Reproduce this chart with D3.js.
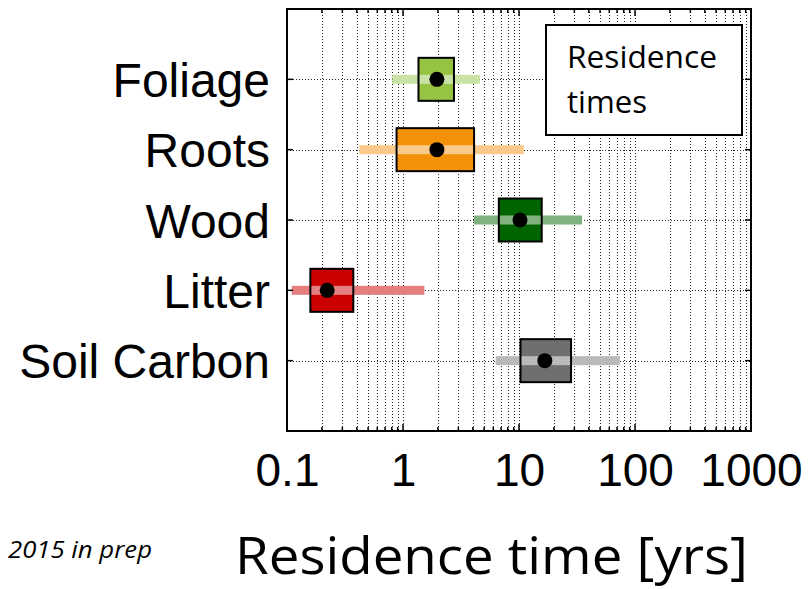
<!DOCTYPE html>
<html>
<head>
<meta charset="utf-8">
<script src="https://cdn.jsdelivr.net/npm/d3@7"></script>
<style>
  html, body { margin: 0; padding: 0; background: #fff; }
  svg { display: block; }
</style>
</head>
<body>
<svg id="chart" width="812" height="589"></svg>
<script>
// Carbon pool residence times (years), log scale
const categories = ["Foliage", "Roots", "Wood", "Litter", "Soil Carbon"];
const medians    = [1.96, 1.96, 10.2, 0.222, 16.7];
const boxLow     = [1.36, 0.88, 6.7, 0.159, 10.3];
const boxHigh    = [2.75, 4.1, 15.7, 0.373, 28.1];
const rangeLow   = [0.81, 0.42, 4.1, 0.11, 6.3];
const rangeHigh  = [4.6, 11.0, 35, 1.53, 74];
const boxColors  = ["#96c341", "#f39208", "#006400", "#cc0000", "#6f6f6f"];
const bandColors = ["#c9e2a6", "#fbc98b", "#7fb27f", "#e57f7f", "#bababa"];
const xTickValues = [0.1, 1, 10, 100, 1000];
const xTickLabels = ["0.1", "1", "10", "100", "1000"];

const svg = d3.select("#chart");
const L = 287, R = 751, T = 9, B = 431;

const x = d3.scaleLog().domain([0.1, 1000]).range([L, R]);
const y = d3.scaleLinear().domain([0, 6]).range([T, B]);
const rows = categories.map((c, i) => ({
  name: c, pos: i + 1,
  med: medians[i], bLo: boxLow[i], bHi: boxHigh[i],
  rLo: rangeLow[i], rHi: rangeHigh[i],
  fill: boxColors[i], band: bandColors[i]
}));

const logTicks = x.ticks(); // 0.1..0.9, 1..9, 10..90, ...
const isMajor = v => Math.abs(Math.log10(v) - Math.round(Math.log10(v))) < 1e-9;

// dotted grid
const grid = svg.append("g").attr("stroke", "#222").attr("stroke-width", 1)
  .attr("stroke-dasharray", "1,2");
grid.selectAll("line.v").data(logTicks.filter(v => v > 0.1 && v < 1000))
  .join("line").attr("class", "v")
  .attr("x1", d => Math.round(x(d)) + 0.5).attr("x2", d => Math.round(x(d)) + 0.5)
  .attr("y1", T).attr("y2", B);
grid.selectAll("line.h").data(rows).join("line").attr("class", "h")
  .attr("x1", L).attr("x2", R)
  .attr("y1", d => Math.round(y(d.pos)) + 0.5).attr("y2", d => Math.round(y(d.pos)) + 0.5);

// boxes with range bands
const boxH = 43, bandH = 9, dotR = 7.5;
const g = svg.append("g");
g.selectAll("rect.box").data(rows).join("rect").attr("class", "box")
  .attr("x", d => x(d.bLo)).attr("width", d => x(d.bHi) - x(d.bLo))
  .attr("y", d => y(d.pos) - boxH / 2).attr("height", boxH)
  .attr("fill", d => d.fill);
g.selectAll("rect.band").data(rows).join("rect").attr("class", "band")
  .attr("x", d => x(d.rLo)).attr("width", d => x(d.rHi) - x(d.rLo))
  .attr("y", d => y(d.pos) - bandH / 2).attr("height", bandH)
  .attr("fill", d => d.band);
g.selectAll("rect.outline").data(rows).join("rect").attr("class", "outline")
  .attr("x", d => x(d.bLo)).attr("width", d => x(d.bHi) - x(d.bLo))
  .attr("y", d => y(d.pos) - boxH / 2).attr("height", boxH)
  .attr("fill", "none").attr("stroke", "#000").attr("stroke-width", 2);
g.selectAll("circle").data(rows).join("circle")
  .attr("cx", d => x(d.med)).attr("cy", d => y(d.pos)).attr("r", dotR)
  .attr("fill", "#000");

// inward ticks on all four sides
const ticks = svg.append("g").attr("stroke", "#000").attr("stroke-width", 1.5);
const tl = d => isMajor(d) ? 7 : 4;
ticks.selectAll("line.t").data(logTicks).join("line").attr("class", "t")
  .attr("x1", d => x(d)).attr("x2", d => x(d)).attr("y1", T).attr("y2", d => T + tl(d));
ticks.selectAll("line.b").data(logTicks).join("line").attr("class", "b")
  .attr("x1", d => x(d)).attr("x2", d => x(d)).attr("y1", B).attr("y2", d => B - tl(d));
ticks.selectAll("line.l").data(rows).join("line").attr("class", "l")
  .attr("x1", L).attr("x2", L + 6).attr("y1", d => y(d.pos)).attr("y2", d => y(d.pos));
ticks.selectAll("line.r").data(rows).join("line").attr("class", "r")
  .attr("x1", R).attr("x2", R - 6).attr("y1", d => y(d.pos)).attr("y2", d => y(d.pos));

// frame
svg.append("rect").attr("x", L).attr("y", T).attr("width", R - L).attr("height", B - T)
  .attr("fill", "none").attr("stroke", "#000").attr("stroke-width", 2);

// category labels
svg.append("g").selectAll("text").data(rows).join("text")
  .attr("x", 270).attr("y", d => y(d.pos) + 17.5)
  .attr("text-anchor", "end")
  .attr("font-family", "'Liberation Sans', Arial, sans-serif")
  .attr("font-size", 48).attr("fill", "#000")
  .text(d => d.name);

// x tick labels
const xAxis = d3.axisBottom(x).tickValues(xTickValues)
  .tickFormat((d, i) => xTickLabels[i]).tickSize(0).tickPadding(0);
const ax = svg.append("g").attr("transform", `translate(0,${B})`).call(xAxis);
ax.select(".domain").remove();
ax.selectAll("text")
  .attr("font-family", "'Liberation Sans', Arial, sans-serif")
  .attr("font-size", 46).attr("fill", "#000")
  .attr("dy", null).attr("y", 55);

// axis title
svg.append("text").attr("x", 235).attr("y", 574)
  .attr("font-family", "'Open Sans', 'Noto Sans', sans-serif")
  .attr("font-size", 52).attr("fill", "#000")
  .attr("textLength", 513).attr("lengthAdjust", "spacingAndGlyphs")
  .text("Residence time [yrs]");

svg.append("text").attr("x", 8).attr("y", 558)
  .attr("font-family", "'Open Sans', 'Noto Sans', sans-serif")
  .attr("font-style", "italic").attr("font-size", 24).attr("fill", "#000")
  .attr("textLength", 144).attr("lengthAdjust", "spacingAndGlyphs")
  .text("2015 in prep");

// legend box
const lg = svg.append("g");
lg.append("rect").attr("x", 546).attr("y", 25).attr("width", 196).attr("height", 110)
  .attr("fill", "#fff").attr("stroke", "#000").attr("stroke-width", 2);
lg.append("text").attr("x", 567).attr("y", 68)
  .attr("font-family", "'Open Sans', 'Noto Sans', sans-serif")
  .attr("font-size", 31).attr("fill", "#000")
  .attr("textLength", 150).attr("lengthAdjust", "spacingAndGlyphs")
  .text("Residence");
lg.append("text").attr("x", 567).attr("y", 113)
  .attr("font-family", "'Open Sans', 'Noto Sans', sans-serif")
  .attr("font-size", 31).attr("fill", "#000")
  .attr("textLength", 80).attr("lengthAdjust", "spacingAndGlyphs")
  .text("times");
</script>
</body>
</html>
